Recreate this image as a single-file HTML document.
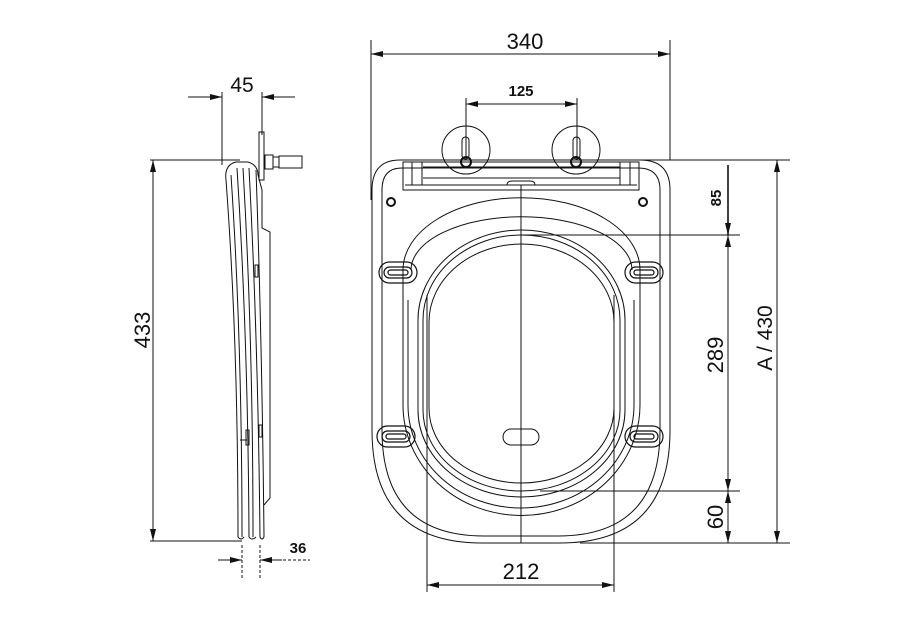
<!DOCTYPE html>
<html><head><meta charset="utf-8"><style>
html,body{margin:0;padding:0;background:#fff}
svg{display:block}
text{font-family:"Liberation Sans",Arial,sans-serif;fill:#111}
</style></head><body>
<svg width="910" height="636" viewBox="0 0 910 636" xmlns="http://www.w3.org/2000/svg">
<defs>
<marker id="a" viewBox="0 0 12 6" refX="12" refY="3" markerWidth="12" markerHeight="6" orient="auto-start-reverse" markerUnits="userSpaceOnUse"><path d="M0,0 L12,3 L0,6 z" fill="#111"/></marker>
</defs>
<g stroke="#111" stroke-width="1" fill="none">
<line x1="371" y1="40" x2="371" y2="200"/><line x1="670" y1="40" x2="670" y2="160"/>
<line x1="371" y1="54" x2="670" y2="54" marker-start="url(#a)" marker-end="url(#a)"/>
<line x1="466" y1="98" x2="466" y2="160"/><line x1="577" y1="98" x2="577" y2="160"/>
<line x1="466" y1="104" x2="577" y2="104" marker-start="url(#a)" marker-end="url(#a)"/>
<circle cx="466" cy="150" r="24"/><circle cx="576" cy="150" r="24"/>
<rect x="462" y="137" width="7" height="22" rx="3.5"/><rect x="573" y="137" width="7" height="22" rx="3.5"/>
<circle cx="466" cy="162" r="5" stroke-width="2"/><circle cx="576" cy="162" r="5" stroke-width="2"/>
<path d="M400,160 L640,160 Q670,160 670,190 L670,430 Q670,543 560,543 L482,543 Q372,543 372,430 L372,190 Q372,160 400,160 Z"/>
<path d="M402,168 L638,168 Q660,168 660,190 L660,430 Q660,536 558,536 L484,536 Q382,536 382,430 L382,190 Q382,168 402,168 Z"/>
<rect x="403" y="162" width="236" height="28"/>
<line x1="423" y1="167" x2="620" y2="167"/><line x1="423" y1="178" x2="620" y2="178"/>
<line x1="405" y1="185" x2="637" y2="185"/><line x1="405" y1="190" x2="637" y2="190"/>
<line x1="412" y1="162" x2="412" y2="185"/><line x1="422" y1="162" x2="422" y2="185"/>
<line x1="620" y1="162" x2="620" y2="185"/><line x1="630" y1="162" x2="630" y2="185"/>
<path d="M507,185 Q507,181 512,181 L530,181 Q535,181 535,185"/>
<circle cx="391" cy="202" r="4" stroke-width="2"/><circle cx="643" cy="202" r="4" stroke-width="2"/>
<!-- lid contours -->
<path d="M403,270 A118,72 0 0 1 640,270 L640,405 A118,110 0 0 1 403,405 Z"/>
<path d="M408,300 L408,405 A113,103 0 0 0 634,405 L634,300"/>
<path d="M411,270 A110,53 0 0 1 632,270"/>
<!-- opening -->
<path d="M418,320 A103.5,90 0 0 1 625,320 L625,410 A103.5,87 0 0 1 418,410 Z"/>
<path d="M423,320 A98.5,85 0 0 1 620,320 L620,410 A98.5,81 0 0 1 423,410 Z"/>
<path d="M429,322 A92.5,78 0 0 1 614,322 L614,408 A92.5,75 0 0 1 429,408 Z"/>
<g stroke-width="1.2">
<rect x="379" y="262" width="38" height="21" rx="10.5"/><rect x="384" y="267" width="28" height="11" rx="5.5"/><rect x="388" y="270" width="20" height="5" rx="2.5"/>
<rect x="625" y="262" width="38" height="21" rx="10.5"/><rect x="630" y="267" width="28" height="11" rx="5.5"/><rect x="634" y="270" width="20" height="5" rx="2.5"/>
<rect x="377" y="426" width="38" height="21" rx="10.5"/><rect x="382" y="431" width="28" height="11" rx="5.5"/><rect x="386" y="434" width="20" height="5" rx="2.5"/>
<rect x="625" y="426" width="38" height="21" rx="10.5"/><rect x="630" y="431" width="28" height="11" rx="5.5"/><rect x="634" y="434" width="20" height="5" rx="2.5"/>
</g>
<rect x="503" y="429" width="36" height="16" rx="8"/>
<line x1="521" y1="185" x2="521" y2="543"/>
<line x1="640" y1="160" x2="790" y2="160"/>
<line x1="521" y1="235" x2="740" y2="235"/>
<line x1="540" y1="491" x2="740" y2="491"/>
<line x1="580" y1="543" x2="790" y2="543"/>
<line x1="728" y1="165" x2="728" y2="235" marker-end="url(#a)" stroke-width="1.6"/>
<line x1="728" y1="235" x2="728" y2="491" marker-start="url(#a)" marker-end="url(#a)"/>
<line x1="728" y1="491" x2="728" y2="543" marker-start="url(#a)" marker-end="url(#a)"/>
<line x1="777" y1="160" x2="777" y2="543" marker-start="url(#a)" marker-end="url(#a)"/>
<line x1="427" y1="295" x2="427" y2="592"/><line x1="614" y1="295" x2="614" y2="592"/>
<line x1="427" y1="585" x2="614" y2="585" marker-start="url(#a)" marker-end="url(#a)"/>
<line x1="150" y1="160" x2="240" y2="160"/><line x1="150" y1="541" x2="242" y2="541"/>
<line x1="153" y1="160" x2="153" y2="541" marker-start="url(#a)" marker-end="url(#a)"/>
<line x1="222" y1="92" x2="222" y2="165"/><line x1="262" y1="92" x2="262" y2="135"/>
<line x1="188" y1="97" x2="222" y2="97" marker-end="url(#a)"/>
<line x1="295" y1="97" x2="262" y2="97" marker-end="url(#a)"/>
<rect x="259" y="132" width="5" height="48"/>
<rect x="265" y="155" width="8" height="14"/><rect x="273" y="157" width="6" height="10"/><rect x="279" y="156" width="23" height="12"/>
<path d="M226,180 Q224,165 236,162 L248,162 Q258,165 258,175"/>
<path d="M226,180 Q238,340 238,537 Q241,541 244,537"/>
<path d="M231,175 Q242,340 242,537"/>
<path d="M237,168 Q248,340 249,537 Q252,541 256,537"/>
<path d="M243,168 Q253,340 253,537"/>
<path d="M249,168 Q258,340 260,537 Q262,541 264,537"/>
<path d="M256,170 Q262,340 264,537"/>
<path d="M258,175 L262,190 L262,228 L270,232 L270,498 L264,505"/>
<rect x="255" y="265" width="3" height="12"/><rect x="259" y="425" width="3" height="12"/>
<line x1="240" y1="440" x2="247" y2="440"/><rect x="246" y="430" width="3" height="15"/>
<g stroke-dasharray="3,2">
<line x1="242" y1="545" x2="242" y2="580"/><line x1="260" y1="545" x2="260" y2="580"/>
<line x1="278" y1="560" x2="310" y2="560"/>
</g>
<line x1="218" y1="560" x2="242" y2="560" marker-end="url(#a)"/>
<line x1="282" y1="560" x2="260" y2="560" marker-end="url(#a)"/>
</g>
<text x="525" y="49" font-size="22" text-anchor="middle">340</text>
<text x="521" y="96" font-size="15" font-weight="bold" text-anchor="middle">125</text>
<text x="242" y="92" font-size="21" text-anchor="middle">45</text>
<text x="298" y="553" font-size="15" font-weight="bold" text-anchor="middle">36</text>
<text x="521" y="579" font-size="22" text-anchor="middle">212</text>
<text transform="translate(150,330) rotate(-90)" font-size="22" text-anchor="middle">433</text>
<text transform="translate(723,355) rotate(-90)" font-size="22" text-anchor="middle">289</text>
<text transform="translate(721,198) rotate(-90)" font-size="15" font-weight="bold" text-anchor="middle">85</text>
<text transform="translate(723,517) rotate(-90)" font-size="22" text-anchor="middle">60</text>
<text transform="translate(772,338) rotate(-90)" font-size="21" text-anchor="middle">A / 430</text>
</svg>
</body></html>
